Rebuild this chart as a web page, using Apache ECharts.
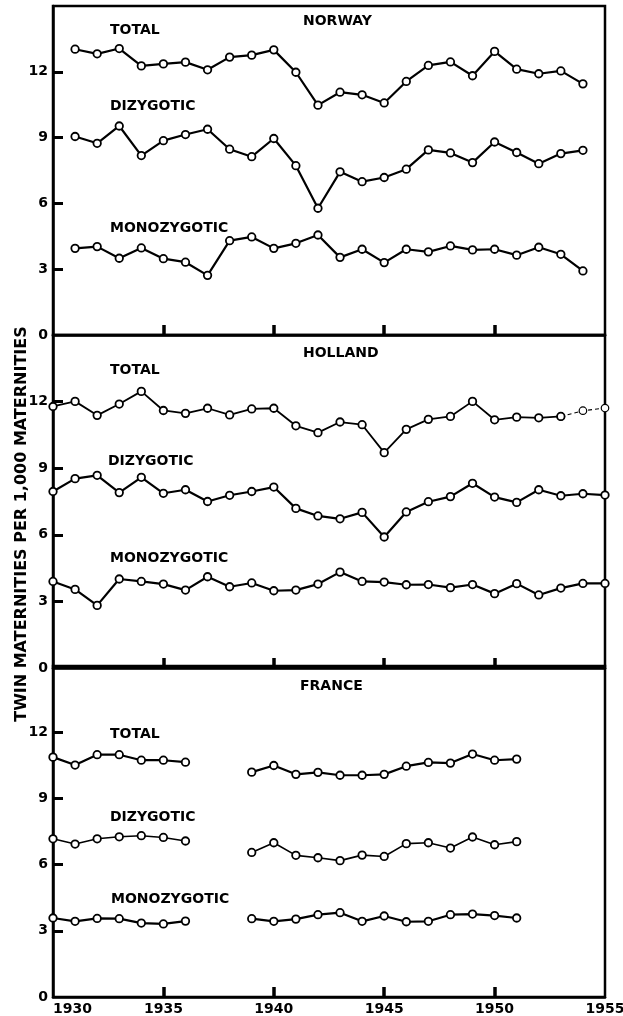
<!DOCTYPE html>
<html>
<head>
<meta charset="utf-8">
<script src="https://cdn.jsdelivr.net/npm/echarts@6/dist/echarts.min.js"></script>
<style>
html,body{margin:0;padding:0;background:#fff;}
#chart{width:623px;height:1016px;}
</style>
</head>
<body>
<div id="chart"></div>
<script>
// ---- Data ----
const norwayYears = [1931,1932,1933,1934,1935,1936,1937,1938,1939,1940,1941,1942,1943,1944,1945,1946,1947,1948,1949,1950,1951,1952,1953,1954];
const norwayTotal = [13.03,12.82,13.06,12.27,12.36,12.44,12.09,12.67,12.76,13.0,11.98,10.48,11.07,10.95,10.58,11.56,12.29,12.45,11.82,12.93,12.12,11.91,12.04,11.45];
const norwayDizygotic = [9.05,8.74,9.53,8.18,8.86,9.14,9.38,8.47,8.13,8.96,7.72,5.78,7.44,6.99,7.18,7.56,8.44,8.30,7.86,8.80,8.32,7.81,8.27,8.42];
const norwayMonozygotic = [3.95,4.03,3.50,3.97,3.48,3.32,2.72,4.30,4.47,3.95,4.18,4.56,3.54,3.91,3.30,3.91,3.79,4.06,3.88,3.91,3.64,4.00,3.68,2.92];

const hollandYears = [1930,1931,1932,1933,1934,1935,1936,1937,1938,1939,1940,1941,1942,1943,1944,1945,1946,1947,1948,1949,1950,1951,1952,1953,1954,1955];
const hollandTotal = [11.78,12.01,11.38,11.89,12.46,11.60,11.47,11.70,11.40,11.67,11.70,10.91,10.60,11.08,10.96,9.70,10.75,11.20,11.33,12.01,11.18,11.30,11.27,11.33,11.59,11.71];
const hollandDizygotic = [7.95,8.53,8.68,7.90,8.59,7.87,8.03,7.50,7.78,7.95,8.15,7.19,6.85,6.72,7.01,5.90,7.03,7.49,7.72,8.32,7.70,7.46,8.03,7.76,7.85,7.79];
const hollandMonozygotic = [3.90,3.54,2.82,4.01,3.90,3.78,3.51,4.11,3.66,3.83,3.48,3.51,3.78,4.32,3.90,3.87,3.75,3.76,3.62,3.76,3.35,3.80,3.29,3.60,3.81,3.81];

const franceYears = [1930,1931,1932,1933,1934,1935,1936,1937,1938,1939,1940,1941,1942,1943,1944,1945,1946,1947,1948,1949,1950,1951];
const franceTotal = [10.87,10.51,10.98,10.98,10.73,10.73,10.64,null,null,10.19,10.49,10.09,10.18,10.05,10.05,10.09,10.46,10.63,10.60,11.01,10.73,10.78];
const franceDizygotic = [7.17,6.93,7.17,7.26,7.31,7.23,7.07,null,null,6.55,6.99,6.42,6.31,6.18,6.43,6.37,6.95,6.99,6.75,7.25,6.90,7.04];
const franceMonozygotic = [3.58,3.43,3.56,3.55,3.35,3.31,3.44,null,null,3.55,3.43,3.53,3.73,3.82,3.43,3.67,3.41,3.43,3.73,3.76,3.69,3.58];

const yTickValues = [0,3,6,9,12];
const xTickLabels = [1930,1935,1940,1945,1950,1955];
const countryNames = ['NORWAY','HOLLAND','FRANCE'];
const seriesNames = ['TOTAL','DIZYGOTIC','MONOZYGOTIC'];
const yAxisTitle = 'TWIN MATERNITIES PER 1,000 MATERNITIES';

// ---- Chart ----
const FONT = '"DejaVu Sans", sans-serif';
const chart = echarts.init(document.getElementById('chart'), null, {renderer:'canvas'});

const gridsPos = [
  {top: 6, height: 329},
  {top: 335, height: 333},
  {top: 666, height: 331}
];
const grids = gridsPos.map(g => ({
  left: 53, right: 18, top: g.top, height: g.height,
  containLabel: false, outerBoundsMode: 'none',
  show: true, borderColor: '#000', borderWidth: 2.5, backgroundColor: 'transparent'
}));

const xAxes = gridsPos.map((g, i) => ({
  gridIndex: i, type: 'value', min: 1930, max: 1955, interval: 5,
  axisLine: {show: true, lineStyle: {color: '#000', width: 2.5}},
  axisTick: {show: true, inside: true, length: 10, lineStyle: {color: '#000', width: 3.5},
             customValues: xTickLabels.slice(1, 5)},
  axisLabel: {show: i === 2, color: '#000', fontFamily: FONT, fontWeight: 'bold', fontSize: 14,
              margin: 5, alignMinLabel: 'left', customValues: xTickLabels,
              formatter: v => String(v)},
  splitLine: {show: false}
}));

const yAxes = gridsPos.map((g, i) => ({
  gridIndex: i, type: 'value', min: 0, max: 15, interval: 3,
  axisLine: {show: true, lineStyle: {color: '#000', width: 2.5}},
  axisTick: {show: true, inside: true, length: 10, lineStyle: {color: '#000', width: 3},
             customValues: yTickValues.slice(1)},
  axisLabel: {show: true, color: '#000', fontFamily: FONT, fontWeight: 'bold', fontSize: 14,
              margin: 5, customValues: yTickValues},
  splitLine: {show: false}
}));

function pairs(years, vals) {
  return years.map((y, i) => [y, vals[i] == null ? '-' : vals[i]]);
}
function lineSeries(idx, data, opts) {
  opts = opts || {};
  return {
    type: 'line', xAxisIndex: idx, yAxisIndex: idx, data: data,
    symbol: 'circle', symbolSize: opts.symbolSize || 7.5, showSymbol: true,
    connectNulls: false, animation: false, z: opts.z || 3,
    lineStyle: {color: '#000', width: opts.width || 2.2, type: opts.type || 'solid'},
    itemStyle: {color: '#fff', borderColor: '#000', borderWidth: opts.bw || 1.8}
  };
}

const hTot = pairs(hollandYears, hollandTotal);
const series = [
  lineSeries(0, pairs(norwayYears, norwayTotal)),
  lineSeries(0, pairs(norwayYears, norwayDizygotic)),
  lineSeries(0, pairs(norwayYears, norwayMonozygotic)),
  lineSeries(1, hTot.slice(0, 24), {width: 1.8}),
  lineSeries(1, hTot.slice(23), {width: 1.1, type: [4, 3], bw: 1.2, z: 2}),
  lineSeries(1, pairs(hollandYears, hollandDizygotic)),
  lineSeries(1, pairs(hollandYears, hollandMonozygotic)),
  lineSeries(2, pairs(franceYears, franceTotal)),
  lineSeries(2, pairs(franceYears, franceDizygotic), {width: 1.6}),
  lineSeries(2, pairs(franceYears, franceMonozygotic))
];

function txt(text, x, y, extra) {
  return Object.assign({
    type: 'text', x: x, y: y, z: 10,
    style: {text: text, fill: '#000', font: 'bold 14px ' + FONT, textVerticalAlign: 'middle', textAlign: 'left'}
  }, extra || {});
}
const labelPos = [
  {country: [303, 21], rows: [[110, 30], [110, 106], [110, 228]]},
  {country: [303, 353], rows: [[110, 370], [108, 461], [110, 558]]},
  {country: [300, 686], rows: [[110, 734], [110, 817], [111, 899]]}
];
const graphics = [];
labelPos.forEach((p, i) => {
  graphics.push(txt(countryNames[i], p.country[0], p.country[1]));
  p.rows.forEach((r, j) => graphics.push(txt(seriesNames[j], r[0], r[1])));
});
graphics.push({
  type: 'text', x: 22, y: 524, rotation: Math.PI / 2, z: 10,
  style: {text: yAxisTitle, fill: '#000', font: 'bold 16px ' + FONT, textAlign: 'center', textVerticalAlign: 'middle'}
});

chart.setOption({
  backgroundColor: '#fff',
  animation: false,
  grid: grids,
  xAxis: xAxes,
  yAxis: yAxes,
  series: series,
  graphic: graphics
});
</script>
</body>
</html>
